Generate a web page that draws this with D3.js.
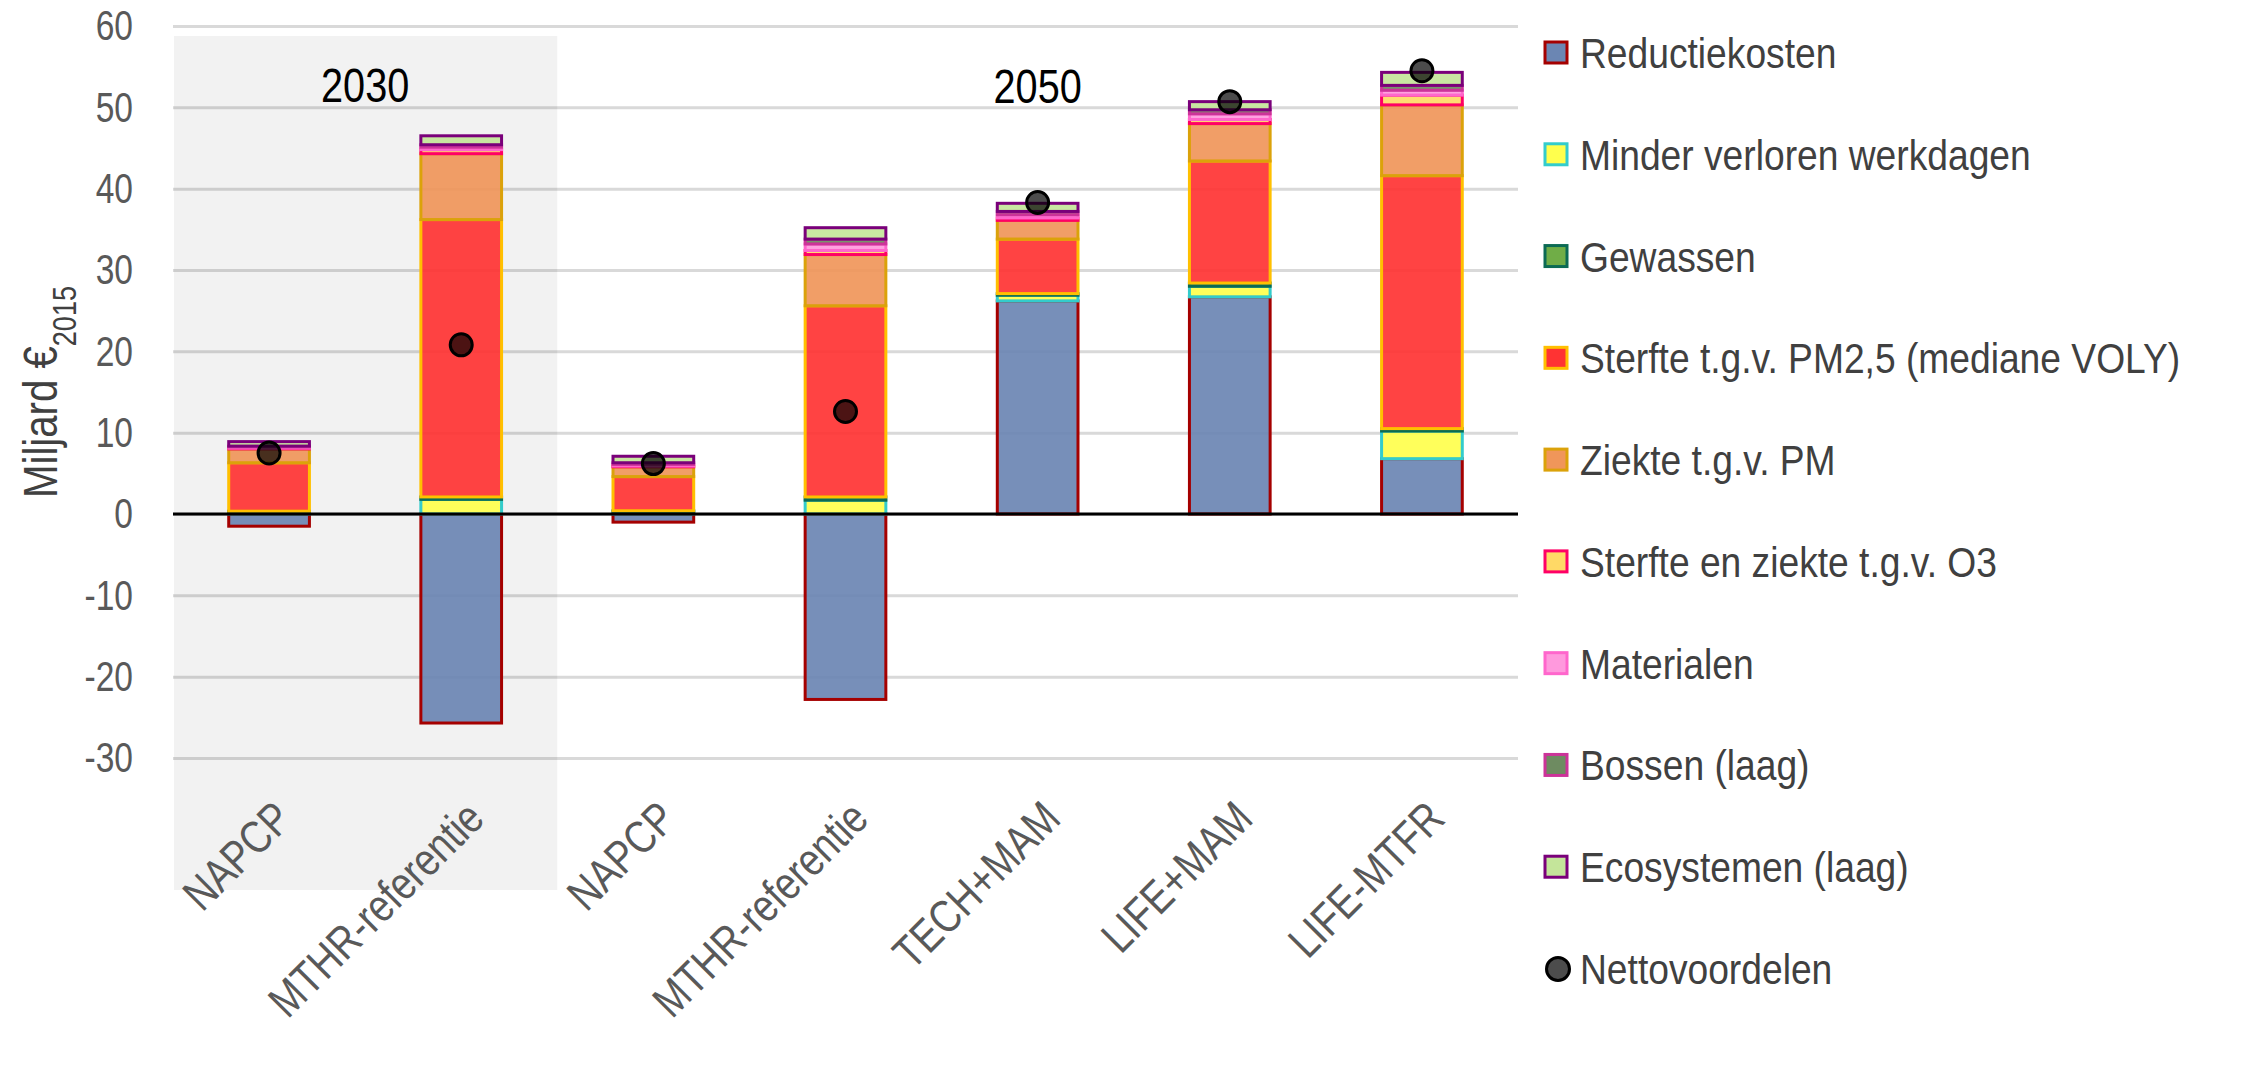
<!DOCTYPE html>
<html>
<head>
<meta charset="utf-8">
<script src="https://cdn.jsdelivr.net/npm/d3@7"></script>
<style>
  body { margin: 0; background: #fff; }
  text { font-family: "Liberation Sans", Arial, sans-serif; }
</style>
</head>
<body>
<div id="chart"></div>
<script>
// categories (two NAPCP / MTHR pairs, so bars are keyed by index)
var categories = ["NAPCP", "MTHR-referentie", "NAPCP", "MTHR-referentie", "TECH+MAM", "LIFE+MAM", "LIFE-MTFR"];

// series values, Miljard euro 2015
var reductiekosten  = [-1.5, -25.7, -1.0, -22.8, 26.2, 26.7, 6.8];
var minderWerkdagen = [0.3, 1.8, 0.3, 1.7, 0.7, 1.3, 3.4];
var gewassen        = [0.05, 0.3, 0.1, 0.4, 0.2, 0.4, 0.3];
var sterftePM       = [5.95, 34.1, 4.2, 23.5, 6.7, 15.0, 31.1];
var ziektePM        = [1.7, 8.1, 1.2, 6.3, 2.3, 4.6, 8.7];
var sterfteO3       = [0.1, 0.5, 0.1, 0.5, 0.3, 0.5, 1.2];
var materialen      = [0.15, 0.3, 0.2, 0.8, 0.4, 0.7, 0.6];
var bossen          = [0.1, 0.3, 0.2, 0.6, 0.4, 0.5, 0.6];
var ecosystemen     = [0.55, 1.1, 0.8, 1.4, 1.0, 1.0, 1.6];
var nettovoordelen  = [7.5, 20.8, 6.2, 12.6, 38.3, 50.7, 54.5];

var yTicks = [-30, -20, -10, 0, 10, 20, 30, 40, 50, 60];

var series = [
  {key: "Reductiekosten", values: reductiekosten, fill: "#6b86b3", stroke: "#a50000"},
  {key: "Minder verloren werkdagen", values: minderWerkdagen, fill: "#ffff4d", stroke: "#33cccc"},
  {key: "Gewassen", values: gewassen, fill: "#70ad47", stroke: "#0b6a54"},
  {key: "Sterfte t.g.v. PM2,5 (mediane VOLY)", values: sterftePM, fill: "#ff3333", stroke: "#ffc000"},
  {key: "Ziekte t.g.v. PM", values: ziektePM, fill: "#f0965a", stroke: "#dba20a"},
  {key: "Sterfte en ziekte t.g.v. O3", values: sterfteO3, fill: "#ffd966", stroke: "#ff0066"},
  {key: "Materialen", values: materialen, fill: "#ff99dd", stroke: "#ff66cc"},
  {key: "Bossen (laag)", values: bossen, fill: "#6e8b61", stroke: "#cc3399"},
  {key: "Ecosystemen (laag)", values: ecosystemen, fill: "#c4e59a", stroke: "#7a007a"}
];

var W = 2257, H = 1072;
var plotL = 173, plotR = 1518, plotT = 26, plotB = 758;

// squeeze text horizontally to look like Arial Narrow
function narrow(sel, k) {
  sel.each(function() {
    var len = this.getComputedTextLength();
    d3.select(this).attr("textLength", len * k).attr("lengthAdjust", "spacingAndGlyphs");
  });
}

var svg = d3.select("#chart").append("svg")
    .attr("width", W)
    .attr("height", H);

var x = d3.scaleBand()
    .domain(d3.range(categories.length))
    .range([plotL, plotR])
    .paddingInner(0.58)
    .paddingOuter(0.29);

var y = d3.scaleLinear()
    .domain([-30, 60])
    .range([plotB, plotT]);

// rows for the stack
var rows = categories.map(function(c, i) {
  var r = {i: i};
  series.forEach(function(s) { r[s.key] = s.values[i]; });
  return r;
});

var stacked = d3.stack()
    .keys(series.map(function(s) { return s.key; }))
    .offset(d3.stackOffsetDiverging)(rows);

// gridlines + tick labels (plain hyphen for negatives, like Excel)
var yAxis = svg.append("g")
    .attr("transform", "translate(" + plotL + ",0)")
    .call(d3.axisLeft(y).tickValues(yTicks).tickFormat(function(d) { return String(d); })
      .tickSizeInner(-(plotR - plotL)).tickSizeOuter(0).tickPadding(40));
yAxis.select(".domain").remove();
yAxis.selectAll(".tick line").attr("stroke", "#d9d9d9").attr("stroke-width", 3);
yAxis.selectAll(".tick text")
    .attr("fill", "#595959")
    .style("font-family", "'Liberation Sans', Arial, sans-serif")
    .style("font-size", "43px")
    .call(narrow, 0.78);

// shaded 2030 block
var step = x.step();
svg.append("rect")
    .attr("x", plotL + 1)
    .attr("y", 36)
    .attr("width", x(2) - step * x.paddingInner() / 2 - plotL - 1)
    .attr("height", 890 - 36)
    .attr("fill", "#000")
    .attr("fill-opacity", 0.052);

// stacked bars
var layer = svg.selectAll(".layer")
  .data(stacked)
  .enter().append("g")
    .attr("class", "layer")
    .attr("fill", function(d, i) { return series[i].fill; })
    .attr("stroke", function(d, i) { return series[i].stroke; });

layer.selectAll("rect")
  .data(function(d) { return d; })
  .enter().append("rect")
    .attr("x", function(d) { return x(d.data.i); })
    .attr("width", x.bandwidth())
    .attr("y", function(d) { return y(Math.max(d[0], d[1])); })
    .attr("height", function(d) { return Math.abs(y(d[0]) - y(d[1])); })
    .attr("fill-opacity", 0.92)
    .attr("stroke-width", 3);

// zero line
svg.append("line")
    .attr("x1", plotL)
    .attr("x2", plotR)
    .attr("y1", y(0))
    .attr("y2", y(0))
    .attr("stroke", "#000")
    .attr("stroke-width", 3);

// net benefit dots
svg.selectAll(".netto")
  .data(nettovoordelen)
  .enter().append("circle")
    .attr("class", "netto")
    .attr("cx", function(d, i) { return x(i) + x.bandwidth() / 2; })
    .attr("cy", function(d) { return y(d); })
    .attr("r", 11)
    .attr("fill", "#000")
    .attr("fill-opacity", 0.7)
    .attr("stroke", "#000")
    .attr("stroke-width", 3);

// category labels
var xAxis = svg.append("g")
    .attr("transform", "translate(0," + plotB + ")")
    .call(d3.axisBottom(x).tickSize(0).tickFormat(function(i) { return categories[i]; }));
xAxis.select(".domain").remove();
xAxis.selectAll(".tick text")
    .attr("x", null)
    .attr("y", null)
    .attr("dy", "0.71em")
    .attr("text-anchor", "end")
    .attr("transform", "translate(2,40) rotate(-45)")
    .attr("fill", "#595959")
    .style("font-family", "'Liberation Sans', Arial, sans-serif")
    .style("font-size", "46px")
    .call(narrow, 0.82);

// year headings
svg.append("text")
    .attr("x", (x(0) + x(1) + x.bandwidth()) / 2)
    .attr("y", 102)
    .attr("text-anchor", "middle")
    .style("font-size", "49px")
    .text("2030")
    .call(narrow, 0.81);
svg.append("text")
    .attr("x", x(4) + x.bandwidth() / 2)
    .attr("y", 103)
    .attr("text-anchor", "middle")
    .style("font-size", "49px")
    .text("2050")
    .call(narrow, 0.81);

// y axis title
var yt = svg.append("text")
    .attr("transform", "translate(57," + ((plotT + plotB) / 2) + ") rotate(-90)")
    .attr("text-anchor", "middle")
    .attr("fill", "#404040")
    .style("font-size", "49px");
yt.append("tspan").text("Miljard €");
yt.append("tspan").attr("baseline-shift", "sub").style("font-size", "33px").text("2015");
yt.call(narrow, 0.82);

// legend
var legendY = d3.scaleLinear().domain([0, 9]).range([53, 969]);
var leg = svg.selectAll(".leg")
  .data(series)
  .enter().append("g")
    .attr("class", "leg")
    .attr("transform", function(d, i) { return "translate(1545," + legendY(i) + ")"; });
leg.append("rect")
    .attr("x", 0)
    .attr("y", -11)
    .attr("width", 22)
    .attr("height", 21)
    .attr("fill", function(d) { return d.fill; })
    .attr("stroke", function(d) { return d.stroke; })
    .attr("stroke-width", 3);
leg.append("text")
    .attr("x", 35)
    .attr("y", 15)
    .attr("fill", "#404040")
    .style("font-size", "43px")
    .text(function(d) { return d.key; })
    .call(narrow, 0.865);

var legNet = svg.append("g")
    .attr("transform", "translate(1545," + legendY(9) + ")");
legNet.append("circle")
    .attr("cx", 13)
    .attr("cy", 0)
    .attr("r", 11.5)
    .attr("fill", "#000")
    .attr("fill-opacity", 0.7)
    .attr("stroke", "#000")
    .attr("stroke-width", 3);
legNet.append("text")
    .attr("x", 35)
    .attr("y", 15)
    .attr("fill", "#404040")
    .style("font-size", "43px")
    .text("Nettovoordelen")
    .call(narrow, 0.865);
</script>
</body>
</html>
